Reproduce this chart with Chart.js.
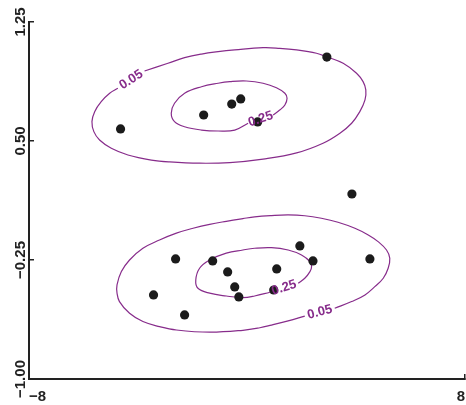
<!DOCTYPE html>
<html>
<head>
<meta charset="utf-8">
<script src="https://cdn.jsdelivr.net/npm/chart.js@4/dist/chart.umd.min.js"></script>
<style>
  html, body { margin: 0; padding: 0; background: #fff; }
  #wrap { width: 466px; height: 405px; position: relative; }
</style>
</head>
<body>
<div id="wrap"><canvas id="chart"></canvas></div>
<script>
const pointsX = [-4.64, -1.59, -0.56, -0.23, 0.39, 2.93,
  3.85, -2.62, -1.26, -0.71, -0.45, -0.30, -3.43, -2.29, 1.09, 0.98, 1.94, 2.42, 4.51];
const pointsY = [0.576, 0.664, 0.733, 0.765, 0.620, 1.029,
  0.166, -0.243, -0.256, -0.325, -0.420, -0.483, -0.470, -0.596, -0.306, -0.439, -0.161, -0.256, -0.243];

// contour lines, each one starts and ends at the gap left for its label
const upperOuterX = [-3.76, -2.90, -2.29, -1.67, -1.06, -0.45, 0.59, 1.20, 1.82, 2.55, 2.92, 3.53, 4.02, 4.26, 4.36, 4.33, 4.14, 3.84, 3.41, 2.79, 1.82, 0.59, -0.63, -1.74, -2.84, -3.51, -4.37, -4.98, -5.41, -5.62, -5.69, -5.59, -5.35, -5.04, -4.74];
const upperOuterY = [0.941, 0.990, 1.025, 1.048, 1.063, 1.074, 1.088, 1.084, 1.074, 1.053, 1.031, 0.990, 0.927, 0.874, 0.822, 0.759, 0.685, 0.612, 0.549, 0.486, 0.425, 0.386, 0.364, 0.360, 0.368, 0.380, 0.412, 0.454, 0.506, 0.559, 0.622, 0.685, 0.748, 0.801, 0.832];
const upperInnerX = [0.96, 1.20, 1.39, 1.47, 1.39, 1.08, 0.59, -0.02, -0.63, -1.06, -1.67, -2.29, -2.66, -2.78, -2.66, -2.29, -1.67, -1.06, -0.45, 0.04];
const upperInnerY = [0.664, 0.695, 0.727, 0.769, 0.801, 0.836, 0.864, 0.878, 0.874, 0.864, 0.842, 0.801, 0.738, 0.675, 0.622, 0.590, 0.569, 0.563, 0.569, 0.612];
const lowerOuterX = [3.22, 3.84, 4.33, 4.69, 5.00, 5.18, 5.24, 5.12, 4.81, 4.45, 3.96, 3.34, 2.73, 2.12, 1.51, 0.90, 0.28, -0.15, -0.76, -1.37, -1.98, -2.59, -3.21, -3.82, -4.31, -4.61, -4.77, -4.77, -4.68, -4.31, -3.82, -3.21, -2.59, -1.37, -0.15, 0.47, 0.90, 1.51, 2.12];
const lowerOuterY = [-0.554, -0.512, -0.470, -0.418, -0.365, -0.302, -0.239, -0.187, -0.134, -0.092, -0.050, -0.012, 0.013, 0.029, 0.034, 0.030, 0.022, 0.011, -0.006, -0.025, -0.050, -0.081, -0.124, -0.176, -0.250, -0.323, -0.407, -0.458, -0.512, -0.586, -0.638, -0.670, -0.691, -0.705, -0.693, -0.677, -0.660, -0.634, -0.604];
const lowerInnerX = [1.88, 2.12, 2.31, 2.37, 2.31, 2.00, 1.51, 0.90, 0.28, -0.15, -0.76, -1.37, -1.74, -1.88, -1.80, -1.37, -0.76, -0.15, 0.28, 0.84];
const lowerInnerY = [-0.397, -0.365, -0.323, -0.292, -0.260, -0.218, -0.187, -0.172, -0.176, -0.187, -0.207, -0.250, -0.302, -0.376, -0.428, -0.459, -0.477, -0.487, -0.477, -0.453];
const contourLevels = ['0.05', '0.25', '0.05', '0.25'];

const xTicks = [-8, 8];
const yTicks = [-1.0, -0.25, 0.5, 1.25];

const toXY = (xs, ys) => xs.map((x, i) => ({ x, y: ys[i] }));
const minus = (s) => s.replace('-', '\u2212');

const purple = '#872c8b';
const axisColor = '#222';
const axisFont = { family: 'Liberation Sans, Arial, sans-serif', size: 15, weight: 'bold' };

const contours = [
  toXY(upperOuterX, upperOuterY),
  toXY(upperInnerX, upperInnerY),
  toXY(lowerOuterX, lowerOuterY),
  toXY(lowerInnerX, lowerInnerY),
];

// level labels sit in the gap of each contour, turned along it
const contourLabels = {
  id: 'contourLabels',
  afterDatasetsDraw(chart) {
    const { ctx } = chart;
    const xs = chart.scales.x;
    const ys = chart.scales.y;
    ctx.save();
    ctx.fillStyle = purple;
    ctx.font = 'bold 13px Liberation Sans, Arial, sans-serif';
    ctx.textAlign = 'center';
    ctx.textBaseline = 'middle';
    contours.forEach((line, i) => {
      const a = line[0];
      const b = line[line.length - 1];
      const ax = xs.getPixelForValue(a.x);
      const ay = ys.getPixelForValue(a.y);
      const bx = xs.getPixelForValue(b.x);
      const by = ys.getPixelForValue(b.y);
      ctx.save();
      ctx.translate((ax + bx) / 2, (ay + by) / 2);
      ctx.rotate(Math.atan2(ay - by, ax - bx));
      ctx.fillText(contourLevels[i], 0, 0);
      ctx.restore();
    });
    ctx.restore();
  },
};

const datasets = [
  {
    label: 'points',
    data: toXY(pointsX, pointsY),
    pointRadius: 4.6,
    pointBackgroundColor: '#1b1b1b',
    pointBorderWidth: 0,
    showLine: false,
  },
];
contours.forEach((line, i) => {
  datasets.push({
    label: 'level ' + contourLevels[i],
    data: line,
    showLine: true,
    pointRadius: 0,
    borderColor: purple,
    borderWidth: 1.2,
    tension: 0.4,
    fill: false,
  });
});

// short inward tick marks, no grid across the plot
const tickGrid = {
  display: true,
  drawOnChartArea: false,
  drawTicks: true,
  tickLength: -5,
  color: axisColor,
  lineWidth: 1.5,
};

new Chart(document.getElementById('chart'), {
  type: 'scatter',
  data: { datasets },
  options: {
    responsive: true,
    maintainAspectRatio: false,
    animation: false,
    layout: { autoPadding: false, padding: { top: 22, right: 1, left: 0, bottom: 0 } },
    plugins: {
      legend: { display: false },
      tooltip: { enabled: false },
    },
    scales: {
      x: {
        type: 'linear',
        min: -8,
        max: 8,
        afterBuildTicks: (scale) => {
          scale.ticks = xTicks.map((v) => ({ value: v }));
        },
        afterFit: (scale) => {
          scale.height = 26;
          scale.paddingLeft = 0;
          scale.paddingRight = 0;
        },
        grid: tickGrid,
        border: { display: true, color: axisColor, width: 2 },
        ticks: {
          align: 'inner',
          padding: 14,
          color: axisColor,
          font: axisFont,
          maxRotation: 0,
          callback: (v) => minus(String(v)),
        },
      },
      y: {
        type: 'linear',
        min: -1,
        max: 1.25,
        afterBuildTicks: (scale) => {
          scale.ticks = yTicks.map((v) => ({ value: v }));
        },
        afterFit: (scale) => {
          scale.width = 29;
          scale.paddingTop = 0;
          scale.paddingBottom = 0;
        },
        grid: tickGrid,
        border: { display: true, color: axisColor, width: 2 },
        ticks: {
          crossAlign: 'center',
          minRotation: 90,
          maxRotation: 90,
          padding: -6,
          color: axisColor,
          font: axisFont,
          callback: (v) => minus(Number(v).toFixed(2)),
        },
      },
    },
  },
  plugins: [contourLabels],
});
</script>
</body>
</html>
